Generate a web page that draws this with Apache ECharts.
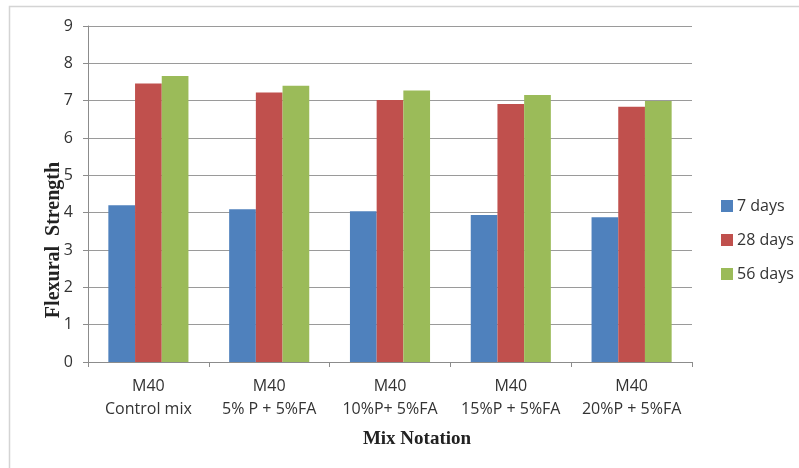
<!DOCTYPE html>
<html>
<head>
<meta charset="utf-8">
<script src="https://cdn.jsdelivr.net/npm/echarts@6/dist/echarts.min.js"></script>
<style>
html,body{margin:0;padding:0;background:#fff;}
#chart{width:799px;height:468px;}
</style>
</head>
<body>
<div id="chart"></div>
<script>
// Mix categories (two-line labels)
const categories = [
  'M40\nControl mix',
  'M40\n5% P + 5%FA',
  'M40\n10%P+ 5%FA',
  'M40\n15%P + 5%FA',
  'M40\n20%P + 5%FA'
];
const seriesNames = ['7 days', '28 days', '56 days'];
const days7  = [4.20, 4.09, 4.04, 3.94, 3.88];
const days28 = [7.46, 7.22, 7.02, 6.91, 6.84];
const days56 = [7.66, 7.40, 7.27, 7.15, 6.99];
const yTicks = [0, 1, 2, 3, 4, 5, 6, 7, 8, 9];

const colors = ['#4F81BD', '#C0504D', '#9BBB59'];
const chart = echarts.init(document.getElementById('chart'), null, {renderer: 'canvas'});

const values = [days7, days28, days56];

chart.setOption({
  animation: false,
  backgroundColor: '#fff',
  graphic: [{
    type: 'rect',
    shape: {x: 9.5, y: 6.5, width: 800, height: 470},
    style: {fill: 'none', stroke: '#d4d4d4', lineWidth: 1.5},
    silent: true
  }],
  grid: {left: 88, top: 26, width: 604, height: 336},
  legend: {
    orient: 'vertical',
    left: 716,
    top: 193,
    itemWidth: 12,
    itemHeight: 12,
    itemGap: 18,
    icon: 'rect',
    textStyle: {fontFamily: 'Open Sans', fontSize: 16, color: '#333', padding: [0, 0, 0, -1]},
    data: seriesNames
  },
  xAxis: {
    type: 'category',
    data: categories,
    name: 'Mix Notation',
    nameLocation: 'middle',
    nameGap: 68,
    nameMoveOverlap: false,
    nameTextStyle: {fontFamily: 'Liberation Serif', fontWeight: 'bold', fontSize: 19, color: '#222', padding: [0, 0, 0, 54]},
    axisLine: {lineStyle: {color: '#8c8c8c', width: 1}},
    axisTick: {show: true, length: 5, lineStyle: {color: '#8c8c8c'}},
    axisLabel: {fontFamily: 'Open Sans', fontSize: 16, color: '#333', lineHeight: 23, margin: 13, interval: 0}
  },
  yAxis: {
    type: 'value',
    min: 0,
    max: 9,
    interval: 1,
    name: 'Flexural  Strength',
    nameLocation: 'middle',
    nameGap: 24,
    nameMoveOverlap: false,
    nameTextStyle: {fontFamily: 'Liberation Serif', fontWeight: 'bold', fontSize: 20, color: '#222', padding: [0, 92, 0, 0]},
    axisLine: {show: true, lineStyle: {color: '#8c8c8c', width: 1}},
    axisTick: {show: true, length: 5, lineStyle: {color: '#8c8c8c'}},
    splitLine: {lineStyle: {color: '#9a9a9a', width: 1}},
    axisLabel: {
      fontFamily: 'Open Sans', fontSize: 16, color: '#333', margin: 15,
      formatter: v => yTicks.includes(v) ? String(v) : ''
    }
  },
  series: seriesNames.map((name, i) => ({
    name: name,
    type: 'bar',
    data: values[i],
    barWidth: 26.7,
    barGap: '0%',
    itemStyle: {color: colors[i]}
  }))
});
</script>
</body>
</html>
